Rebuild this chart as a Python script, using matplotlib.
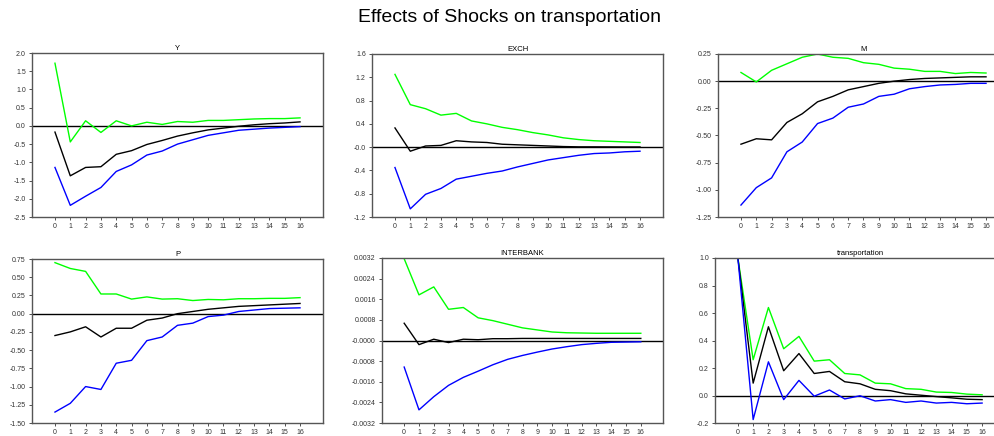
import matplotlib
matplotlib.use("Agg")
import matplotlib.pyplot as plt
import numpy as np

plt.rcParams['font.family'] = ['Liberation Sans', 'DejaVu Sans']

steps = list(range(17))

# panel names and y-axis setup
panel_names = ["Y", "EXCH", "M", "P", "INTERBANK", "transportation"]

y_resp = [-0.17, -1.37, -1.14, -1.12, -0.78, -0.68, -0.51, -0.40, -0.28, -0.19, -0.11, -0.06, -0.01, 0.03, 0.06, 0.08, 0.11]
y_hi = [1.72, -0.44, 0.14, -0.18, 0.14, 0.00, 0.10, 0.04, 0.12, 0.10, 0.15, 0.15, 0.17, 0.19, 0.20, 0.20, 0.22]
y_lo = [-1.14, -2.18, -1.93, -1.69, -1.25, -1.07, -0.80, -0.69, -0.50, -0.38, -0.26, -0.19, -0.12, -0.09, -0.06, -0.04, -0.02]

exch_resp = [0.33, -0.07, 0.02, 0.03, 0.11, 0.09, 0.08, 0.05, 0.04, 0.03, 0.02, 0.01, 0.005, 0.005, 0.004, 0.003, 0.003]
exch_hi = [1.25, 0.73, 0.66, 0.55, 0.58, 0.45, 0.40, 0.34, 0.30, 0.25, 0.21, 0.16, 0.13, 0.11, 0.10, 0.09, 0.08]
exch_lo = [-0.35, -1.06, -0.81, -0.71, -0.55, -0.50, -0.45, -0.41, -0.34, -0.28, -0.22, -0.18, -0.14, -0.11, -0.10, -0.08, -0.07]

m_resp = [-0.58, -0.53, -0.54, -0.38, -0.30, -0.19, -0.14, -0.08, -0.05, -0.02, 0.0, 0.015, 0.025, 0.03, 0.035, 0.04, 0.04]
m_hi = [0.08, -0.007, 0.10, 0.16, 0.22, 0.25, 0.22, 0.21, 0.17, 0.155, 0.12, 0.11, 0.09, 0.09, 0.07, 0.08, 0.075]
m_lo = [-1.14, -0.98, -0.89, -0.65, -0.56, -0.39, -0.34, -0.24, -0.21, -0.14, -0.12, -0.07, -0.05, -0.035, -0.03, -0.02, -0.02]

p_resp = [-0.30, -0.25, -0.18, -0.32, -0.20, -0.20, -0.09, -0.06, 0.0, 0.03, 0.06, 0.08, 0.10, 0.11, 0.12, 0.13, 0.14]
p_hi = [0.70, 0.62, 0.58, 0.27, 0.27, 0.20, 0.23, 0.20, 0.205, 0.18, 0.195, 0.19, 0.205, 0.205, 0.21, 0.21, 0.22]
p_lo = [-1.35, -1.23, -1.00, -1.04, -0.68, -0.64, -0.37, -0.32, -0.16, -0.13, -0.04, -0.02, 0.03, 0.05, 0.07, 0.075, 0.08]

ib_resp = [0.00067, -0.00016, 0.00005, -0.00008, 0.00005, 0.00003, 0.00007, 0.00007, 0.00008, 0.00008, 0.00008, 0.00008, 0.00008, 0.00008, 0.00008, 0.00008, 0.00008]
ib_hi = [0.00317, 0.00177, 0.00208, 0.00121, 0.00128, 0.00088, 0.00077, 0.00063, 0.00049, 0.00041, 0.00033, 0.00030, 0.00029, 0.00028, 0.00028, 0.00028, 0.00028]
ib_lo = [-0.00103, -0.00269, -0.00218, -0.00174, -0.00143, -0.00119, -0.00094, -0.00073, -0.00058, -0.00045, -0.00033, -0.00024, -0.00016, -0.00011, -0.00007, -0.00006, -0.00005]

tr_resp = [1.0, 0.09, 0.50, 0.18, 0.305, 0.16, 0.175, 0.10, 0.085, 0.045, 0.035, 0.012, 0.002, -0.008, -0.017, -0.027, -0.03]
tr_hi = [1.0, 0.26, 0.64, 0.34, 0.43, 0.25, 0.26, 0.16, 0.15, 0.09, 0.085, 0.05, 0.045, 0.025, 0.022, 0.01, 0.005]
tr_lo = [1.0, -0.175, 0.245, -0.03, 0.11, -0.005, 0.04, -0.025, -0.002, -0.04, -0.03, -0.05, -0.04, -0.055, -0.05, -0.06, -0.055]

y_ticks = [
    [-2.5, -2.0, -1.5, -1.0, -0.5, 0.0, 0.5, 1.0, 1.5, 2.0],
    [-1.2, -0.8, -0.4, 0.0, 0.4, 0.8, 1.2, 1.6],
    [-1.25, -1.00, -0.75, -0.50, -0.25, 0.0, 0.25],
    [-1.50, -1.25, -1.00, -0.75, -0.50, -0.25, 0.0, 0.25, 0.50, 0.75],
    [-0.0032, -0.0024, -0.0016, -0.0008, 0.0, 0.0008, 0.0016, 0.0024, 0.0032],
    [-0.2, 0.0, 0.2, 0.4, 0.6, 0.8, 1.0],
]
y_labels = [
    ["-2.5", "-2.0", "-1.5", "-1.0", "-0.5", "0.0", "0.5", "1.0", "1.5", "2.0"],
    ["-1.2", "-0.8", "-0.4", "-0.0", "0.4", "0.8", "1.2", "1.6"],
    ["-1.25", "-1.00", "-0.75", "-0.50", "-0.25", "0.00", "0.25"],
    ["-1.50", "-1.25", "-1.00", "-0.75", "-0.50", "-0.25", "0.00", "0.25", "0.50", "0.75"],
    ["-0.0032", "-0.0024", "-0.0016", "-0.0008", "-0.0000", "0.0008", "0.0016", "0.0024", "0.0032"],
    ["-0.2", "0.0", "0.2", "0.4", "0.6", "0.8", "1.0"],
]

responses = [y_resp, exch_resp, m_resp, p_resp, ib_resp, tr_resp]
uppers = [y_hi, exch_hi, m_hi, p_hi, ib_hi, tr_hi]
lowers = [y_lo, exch_lo, m_lo, p_lo, ib_lo, tr_lo]

W, H = 995, 436
# axes boxes in pixels: left, right, top, bottom
boxes = [
    (32, 323, 53, 217),
    (372, 663, 54, 217),
    (718, 1009, 54, 217),
    (32, 323, 259, 423),
    (382, 663, 258, 423),
    (715, 1005, 258, 423),
]

fig = plt.figure(figsize=(W / 100, H / 100), dpi=100)
fig.text(510 / W, 1 - 17 / H, "Effects of Shocks on transportation", ha="center", va="center", fontsize=14)

for i in range(6):
    l, r, t, b = boxes[i]
    ax = fig.add_axes([l / W, 1 - b / H, (r - l) / W, (b - t) / H])
    ax.plot(steps, uppers[i], color="#00ff00", lw=1.0)
    ax.plot(steps, responses[i], color="black", lw=1.0)
    ax.plot(steps, lowers[i], color="#0000ff", lw=1.0)
    ax.axhline(0, color="black", lw=1.0, zorder=0)
    ax.set_xlim(-1.5, 17.5)
    ax.set_ylim(y_ticks[i][0], y_ticks[i][-1])
    ax.set_xticks(steps)
    ax.set_xticklabels([str(s) for s in steps])
    ax.set_yticks(y_ticks[i])
    ax.set_yticklabels(y_labels[i])
    ax.tick_params(labelsize=5, length=2.5, width=0.6, pad=2, colors="#333333")
    for sp in ax.spines.values():
        sp.set_color("#555555")
        sp.set_linewidth(1.0)
    ax.set_title(panel_names[i], fontsize=5.5, pad=2)

fig.savefig("out.png", dpi=100)
